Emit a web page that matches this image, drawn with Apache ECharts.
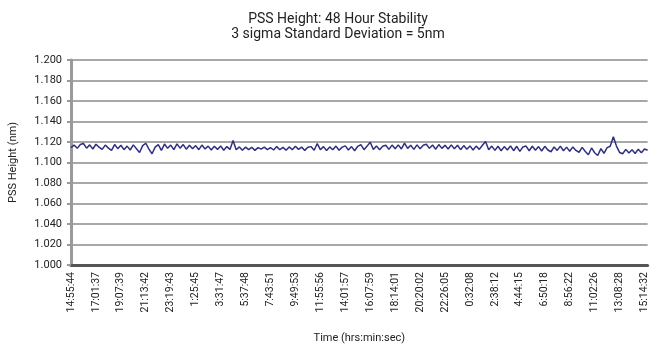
<!DOCTYPE html>
<html>
<head>
<meta charset="utf-8">
<script src="https://cdn.jsdelivr.net/npm/echarts@6/dist/echarts.min.js"></script>
<style>
  html, body { margin: 0; padding: 0; background: #fff; }
  #chart { width: 650px; height: 349px; }
</style>
</head>
<body>
<div id="chart"></div>
<script>
// tick labels, one every 8 samples
const timeLabels = [
  '14:55:44', '17:01:37', '19:07:39', '21:13:42', '23:19:43', '1:25:45', '3:31:47', '5:37:48',
  '7:43:51', '9:49:53', '11:55:56', '14:01:57', '16:07:59', '18:14:01', '20:20:02', '22:26:05',
  '0:32:08', '2:38:12', '4:44:15', '6:50:18', '8:56:22', '11:02:26', '13:08:28', '15:14:32'
]
const samplesPerLabel = 8

// PSS height (nm)
const pssHeight = [
  1.1145, 1.1170, 1.1138, 1.1175, 1.1185, 1.1140, 1.1172, 1.1132, 1.1178, 1.1150,
  1.1128, 1.1170, 1.1140, 1.1118, 1.1175, 1.1135, 1.1168, 1.1125, 1.1160, 1.1122,
  1.1172, 1.1135, 1.1098, 1.1165, 1.1188, 1.1130, 1.1085, 1.1150, 1.1175, 1.1118,
  1.1180, 1.1138, 1.1170, 1.1125, 1.1182, 1.1140, 1.1175, 1.1130, 1.1168, 1.1135,
  1.1165, 1.1125, 1.1170, 1.1132, 1.1160, 1.1122, 1.1158, 1.1128, 1.1162, 1.1120,
  1.1155, 1.1128, 1.1215, 1.1125, 1.1152, 1.1120, 1.1150, 1.1125, 1.1148, 1.1118,
  1.1145, 1.1130, 1.1150, 1.1125, 1.1145, 1.1122, 1.1155, 1.1125, 1.1148, 1.1120,
  1.1152, 1.1125, 1.1158, 1.1128, 1.1150, 1.1118, 1.1148, 1.1155, 1.1120, 1.1185,
  1.1125, 1.1155, 1.1118, 1.1152, 1.1125, 1.1160, 1.1120, 1.1150, 1.1162, 1.1122,
  1.1155, 1.1115, 1.1158, 1.1175, 1.1125, 1.1160, 1.1198, 1.1128, 1.1162, 1.1125,
  1.1158, 1.1168, 1.1128, 1.1170, 1.1135, 1.1172, 1.1132, 1.1188, 1.1138, 1.1168,
  1.1128, 1.1172, 1.1135, 1.1168, 1.1178, 1.1138, 1.1170, 1.1130, 1.1175, 1.1138,
  1.1168, 1.1132, 1.1172, 1.1135, 1.1168, 1.1125, 1.1165, 1.1130, 1.1162, 1.1122,
  1.1160, 1.1128, 1.1168, 1.1205, 1.1125, 1.1160, 1.1118, 1.1158, 1.1115, 1.1155,
  1.1122, 1.1162, 1.1115, 1.1158, 1.1108, 1.1152, 1.1160, 1.1115, 1.1158, 1.1120,
  1.1155, 1.1112, 1.1158, 1.1122, 1.1105, 1.1152, 1.1118, 1.1160, 1.1115, 1.1150,
  1.1110, 1.1152, 1.1118, 1.1100, 1.1148, 1.1108, 1.1075, 1.1142, 1.1095, 1.1068,
  1.1135, 1.1090, 1.1145, 1.1158, 1.1252, 1.1160, 1.1098, 1.1085, 1.1128, 1.1092,
  1.1125, 1.1088, 1.1130, 1.1095, 1.1132, 1.1120
]

const categories = pssHeight.map((_, i) =>
  i % samplesPerLabel === 0 ? (timeLabels[i / samplesPerLabel] || '') : '')

const chart = echarts.init(document.getElementById('chart'))
chart.setOption({
  animation: false,
  textStyle: { fontFamily: 'Roboto, "DejaVu Sans", sans-serif' },
  title: {
    text: 'PSS Height: 48 Hour Stability\n3 sigma Standard Deviation = 5nm',
    left: 333, top: 7, textAlign: 'center',
    textStyle: { fontSize: 14, fontWeight: 'normal', color: '#222', lineHeight: 15 }
  },
  grid: { left: 68, top: 60, right: 0, height: 212 },
  xAxis: {
    type: 'category', data: categories, boundaryGap: false,
    name: 'Time (hrs:min:sec)', nameLocation: 'middle', nameGap: 68,
    nameTextStyle: { fontSize: 11, color: '#222' },
    axisLine: { lineStyle: { color: '#555', width: 3 } },
    axisTick: { show: true, interval: 0, length: 2, lineStyle: { color: '#555' } },
    axisLabel: {
      interval: (i) => i % samplesPerLabel === 0,
      rotate: 90, fontSize: 10.5, color: '#222', margin: 7
    },
    splitLine: { show: false }
  },
  yAxis: {
    type: 'value', min: 1.0, max: 1.2, interval: 0.02,
    name: 'PSS Height (nm)', nameLocation: 'middle', nameGap: 52,
    nameTextStyle: { fontSize: 11, color: '#222' },
    axisLine: { show: true, lineStyle: { color: '#9a9a9a', width: 3 } },
    axisTick: { show: true, inside: false, length: 4, lineStyle: { color: '#9a9a9a', width: 2 } },
    axisLabel: { formatter: (v) => v.toFixed(3), fontSize: 11, color: '#222', margin: 9 },
    splitLine: { lineStyle: { color: '#a8a8a8', width: 2 } }
  },
  series: [{
    type: 'line', data: pssHeight, symbol: 'none',
    lineStyle: { color: '#2f2f80', width: 1.5 }
  }]
})
</script>
</body>
</html>
